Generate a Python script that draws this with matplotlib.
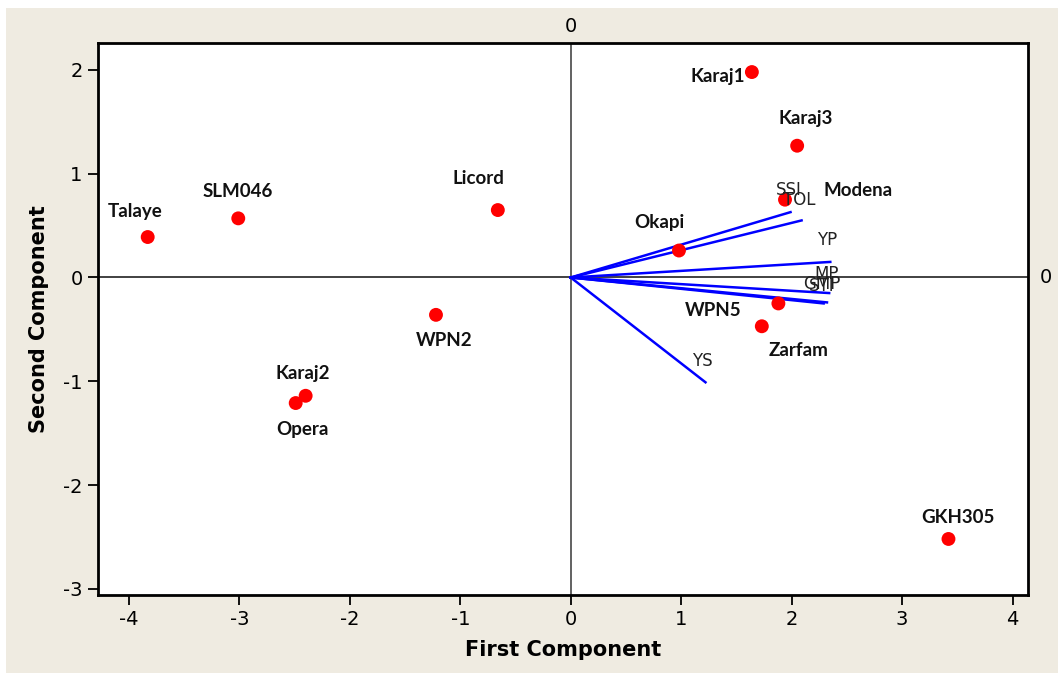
import matplotlib
matplotlib.use("Agg")
import matplotlib.pyplot as plt
from matplotlib.patches import Rectangle

plt.rcParams["axes.unicode_minus"] = False

# ---- data ----
genotypes = ["Talaye", "SLM046", "Licord", "WPN2", "Karaj2", "Opera", "Karaj1",
             "Karaj3", "Modena", "Okapi", "WPN5", "Zarfam", "GKH305"]
pc1 = [-3.83, -3.01, -0.66, -1.22, -2.40, -2.49, 1.64, 2.05, 1.94, 0.98, 1.88, 1.73, 3.42]
pc2 = [0.39, 0.57, 0.65, -0.36, -1.14, -1.21, 1.98, 1.27, 0.75, 0.26, -0.25, -0.47, -2.52]

traits = ["SSI", "TOL", "YP", "MP", "GMP", "STI", "YS"]
load1 = [1.99, 2.09, 2.35, 2.34, 2.32, 2.29, 1.22]
load2 = [0.63, 0.55, 0.15, -0.15, -0.24, -0.25, -1.01]

xticks = [-4, -3, -2, -1, 0, 1, 2, 3, 4]
yticks = [-3, -2, -1, 0, 1, 2]

# ---- layout (label offsets in pixels) ----
geno_off = {"Talaye": (-13, 26), "SLM046": (-1, 27), "Licord": (-19, 32),
            "WPN2": (8, -26), "Karaj2": (-3, 22), "Opera": (7, -26),
            "Karaj1": (-34, -4), "Karaj3": (9, 27), "Modena": (73, 9),
            "Okapi": (-20, 28), "WPN5": (-65, -7), "Zarfam": (37, -24),
            "GKH305": (9, 21)}
trait_off = {"SSI": (-2, 22), "TOL": (-2, 20), "YP": (-3, 22), "MP": (-3, 19),
             "GMP": (-5, 18), "STI": (-2, 17), "YS": (-3, 21)}

bg = "#efebe1"
fig = plt.figure(figsize=(10.58, 6.73), dpi=100, facecolor="white")
fig.patches.append(Rectangle((6 / 1058, 0), 1, 1 - 8 / 673, transform=fig.transFigure,
                             facecolor=bg, edgecolor="none", zorder=-10))
ax = fig.add_axes([98 / 1058, 1 - 595 / 673, 930 / 1058, 552 / 673])
ax.set_facecolor("white")
ax.set_xlim(-4.28, 4.14)
ax.set_ylim(-3.06, 2.26)

ax.axhline(0, color="#333333", lw=1.3, zorder=1)
ax.axvline(0, color="#555555", lw=1.3, zorder=1)

for t, a, b in zip(traits, load1, load2):
    ax.plot([0, a], [0, b], color="#0000ff", lw=1.8, zorder=2)
    ax.annotate(t, (a, b), xytext=trait_off[t], textcoords="offset pixels",
                ha="center", va="center", fontsize=12, color="#222222",
                family="DejaVu Sans", zorder=4)

ax.scatter(pc1, pc2, s=100, color="#ff0000", edgecolors="none", zorder=3)
for g, a, b in zip(genotypes, pc1, pc2):
    ax.annotate(g, (a, b), xytext=geno_off[g], textcoords="offset pixels",
                ha="center", va="center", fontsize=13.5, fontweight="bold",
                color="#111111", family="Lato", zorder=4)

ax.set_xticks(xticks)
ax.set_yticks(yticks)
ax.tick_params(direction="out", length=7, width=1.3, labelsize=14, pad=4, colors="black")
for s in ax.spines.values():
    s.set_linewidth(2)
    s.set_color("black")

ax.set_xlabel("First Component", fontsize=15, fontweight="bold", labelpad=8)
ax.set_ylabel("Second Component", fontsize=15, fontweight="bold", labelpad=10)

ax.annotate("0", (0, 1), xycoords=("data", "axes fraction"), xytext=(0, 16),
            textcoords="offset pixels", ha="center", va="center", fontsize=14)
ax.annotate("0", (1, 0), xycoords=("axes fraction", "data"), xytext=(18, 0),
            textcoords="offset pixels", ha="center", va="center", fontsize=14)

fig.savefig("out.png", dpi=100, facecolor=fig.get_facecolor())
